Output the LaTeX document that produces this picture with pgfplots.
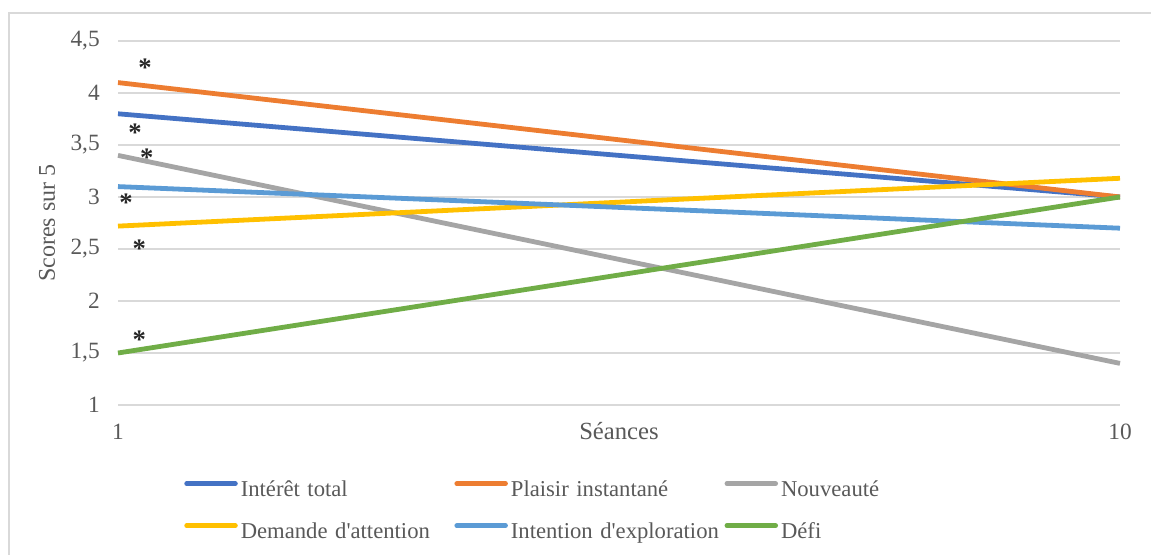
\documentclass[border=0pt]{standalone}
\usepackage{fontspec}
\setmainfont{Liberation Serif}
\usepackage{pgfplots}
\pgfplotsset{compat=1.18}
\definecolor{cBlue}{HTML}{4472C4}
\definecolor{cOrange}{HTML}{ED7D31}
\definecolor{cGray}{HTML}{A5A5A5}
\definecolor{cYellow}{HTML}{FFC000}
\definecolor{cLBlue}{HTML}{5B9BD5}
\definecolor{cGreen}{HTML}{70AD47}
\definecolor{txt}{HTML}{595959}
\definecolor{gridc}{HTML}{D9D9D9}
\tikzset{star/.style={anchor=center, yshift=-3pt, text=black!85, font=\fontsize{20}{20}\selectfont\bfseries}}
\begin{document}
\begin{tikzpicture}
\begin{axis}[
  name=ax,
  scale only axis, width=751.5pt, height=273pt,
  xmin=1, xmax=10, ymin=1, ymax=4.5,
  xtick={1,10}, ytick={1,1.5,2,2.5,3,3.5,4,4.5},
  axis line style={draw=none}, major tick length=0pt,
  ymajorgrids, grid style={gridc, line width=1.3pt},
  clip=false,
  font=\fontsize{17.5}{20}\selectfont,
  /pgf/number format/use comma,
  /pgf/number format/assume math mode=true,
  tick label style={text=txt},
  yticklabel style={anchor=east, inner sep=0pt, xshift=-13.5pt},
  xticklabel style={anchor=base, inner sep=0pt, yshift=-26.25pt},
  xlabel={Séances},
  xlabel style={at={(axis description cs:0.5,0)}, anchor=base, inner sep=0pt, yshift=-26.25pt, text=txt, font=\fontsize{18.5}{20}\selectfont},
  ylabel={Scores sur 5},
  ylabel style={at={(axis description cs:-0.0629,0.5)}, rotate=0, anchor=base, inner sep=0pt, text=txt, font=\fontsize{18}{20}\selectfont},
  every axis plot/.append style={line width=3.6pt},
  legend columns=3,
  legend cell align=left,
  legend image code/.code={\draw[#1, line cap=round] (1.75pt,5.5pt) -- (38.25pt,5.5pt);},
  legend style={at={(axis description cs:0.0659,-0.294)}, anchor=west, draw=none, fill=none,
    inner sep=0pt, row sep=15.5pt, column sep=0pt, text=txt,
    font=\fontsize{17}{20}\selectfont,
    nodes={inner sep=0pt, text height=12pt, text depth=4pt},
    /tikz/every odd column/.append style={column sep=2.25pt},
    /tikz/every even column/.append style={text width=160.25pt}},
]
\addplot[cBlue] coordinates {(1,3.8) (10,3.0)};
\addlegendentry{Intérêt total}
\addplot[cOrange] coordinates {(1,4.1) (10,3.0)};
\addlegendentry{Plaisir instantané}
\addplot[cGray] coordinates {(1,3.4) (10,1.4)};
\addlegendentry{Nouveauté}
\addplot[cYellow] coordinates {(1,2.72) (10,3.18)};
\addlegendentry{Demande d\textquotesingle attention}
\addplot[cLBlue] coordinates {(1,3.1) (10,2.7)};
\addlegendentry{Intention d\textquotesingle exploration}
\addplot[cGreen] coordinates {(1,1.5) (10,3.0)};
\addlegendentry{Défi}
\node[star] at (axis cs:1.2425,4.286) {*};
\node[star] at (axis cs:1.153,3.66) {*};
\node[star] at (axis cs:1.258,3.42) {*};
\node[star] at (axis cs:1.072,2.98) {*};
\node[star] at (axis cs:1.191,2.545) {*};
\node[star] at (axis cs:1.191,1.666) {*};
\end{axis}
\draw[gridc, line width=1.1pt] ([shift={(-81.75pt,-112.5pt)}]ax.south west) -- ([shift={(-81.75pt,294pt)}]ax.south west) -- ([shift={(774.75pt,294pt)}]ax.south west);
\pgfresetboundingbox
\path[use as bounding box] ([shift={(-88.5pt,-112.5pt)}]ax.south west) rectangle ([shift={(774.75pt,303.75pt)}]ax.south west);
\end{tikzpicture}
\end{document}
